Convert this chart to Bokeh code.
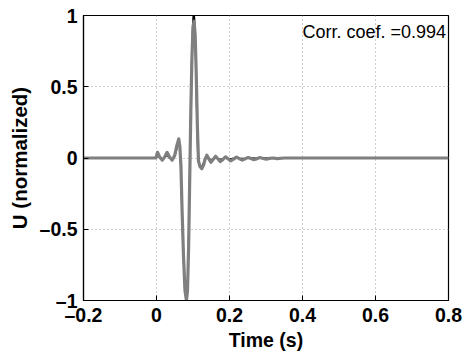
from bokeh.plotting import figure
from bokeh.models import Range1d, FixedTicker
from bokeh.core.properties import value
from bokeh.embed import file_html
from bokeh.resources import INLINE

# Measured (black) trace
t_meas = [-0.2, 0.0, 0.003, 0.009, 0.016, 0.023, 0.029, 0.036, 0.043, 0.050, 0.056,
          0.061, 0.064, 0.067, 0.070, 0.074, 0.078, 0.082, 0.085, 0.088, 0.091,
          0.094, 0.097, 0.100, 0.102, 0.104, 0.107, 0.110, 0.113, 0.116, 0.120,
          0.124, 0.129, 0.134, 0.140, 0.147, 0.154, 0.162, 0.170, 0.178, 0.187,
          0.196, 0.206, 0.216, 0.228, 0.240, 0.255, 0.27, 0.3, 0.8]
u_meas = [0.0, 0.0, 0.02, 0.005, -0.01, 0.005, 0.02, 0.0, -0.01, 0.01, 0.07,
          0.11, 0.07, -0.08, -0.38, -0.70, -0.93, -0.99, -0.92, -0.60, -0.12,
          0.36, 0.74, 0.97, 1.04, 0.98, 0.74, 0.36, 0.05, -0.04, -0.06,
          -0.06, -0.035, -0.005, 0.01, -0.01, -0.015, 0.005, -0.008, -0.01, 0.003,
          -0.006, -0.006, 0.002, -0.004, -0.003, 0.001, -0.002, 0.0, 0.0]

# Simulated (gray) trace
t_sim = [-0.2, -0.002, 0.003, 0.009, 0.016, 0.023, 0.029, 0.036, 0.043, 0.050,
         0.056, 0.061, 0.064, 0.067, 0.070, 0.074, 0.078, 0.082, 0.085, 0.088,
         0.091, 0.094, 0.097, 0.100, 0.103, 0.106, 0.109, 0.112, 0.115, 0.119,
         0.124, 0.129, 0.133, 0.138, 0.143, 0.149, 0.155, 0.162, 0.168, 0.175,
         0.182, 0.189, 0.196, 0.203, 0.211, 0.219, 0.227, 0.235, 0.243, 0.251,
         0.259, 0.267, 0.275, 0.283, 0.292, 0.301, 0.310, 0.320, 0.330, 0.350, 0.8]
u_sim = [0.0, 0.0, 0.04, 0.005, -0.015, 0.01, 0.04, 0.005, -0.015, 0.02,
         0.09, 0.134, 0.08, -0.06, -0.36, -0.69, -0.93, -1.0, -0.93, -0.62,
         -0.15, 0.32, 0.70, 0.92, 0.96, 0.86, 0.58, 0.22, -0.02, -0.06,
         -0.075, -0.05, -0.01, 0.02, -0.005, -0.03, -0.01, 0.012, -0.005, -0.025,
         -0.01, 0.008, -0.005, -0.02, -0.008, 0.006, -0.005, -0.015, -0.006, 0.004,
         -0.004, -0.012, -0.005, 0.003, -0.003, -0.008, -0.003, 0.0, -0.004, 0.0, 0.0]

x_ticks = [-0.2, 0, 0.2, 0.4, 0.6, 0.8]
x_labels = ["\u20130.2", "0", "0.2", "0.4", "0.6", "0.8"]
y_ticks = [-1, -0.5, 0, 0.5, 1]
y_labels = ["\u20131", "\u20130.5", "0", "0.5", "1"]
corr_text = "Corr. coef. =0.994"

FONT = "Liberation Sans"

p = figure(width=468, height=353, output_backend="svg", toolbar_location=None,
           x_range=Range1d(-0.2, 0.8), y_range=Range1d(-1, 1))
p.min_border_left = 83
p.min_border_right = 20
p.min_border_top = 15
p.min_border_bottom = 50
p.background_fill_color = "white"
p.border_fill_color = "white"
p.outline_line_color = "black"
p.outline_line_width = 1.2

for ax, ticks, labels in ((p.xaxis[0], x_ticks, x_labels), (p.yaxis[0], y_ticks, y_labels)):
    ax.ticker = FixedTicker(ticks=ticks)
    ax.major_label_overrides = {t: l for t, l in zip(ticks, labels)}
    ax.major_label_text_font = FONT
    ax.major_label_text_font_style = "bold"
    ax.major_label_text_font_size = "19.5px"
    ax.major_label_text_color = "black"
    ax.axis_label_text_font = FONT
    ax.axis_label_text_font_style = "bold"
    ax.axis_label_text_color = "black"
    ax.major_tick_in = 5
    ax.major_tick_out = 0
    ax.minor_tick_in = 0
    ax.minor_tick_out = 0
    ax.axis_line_color = "black"
    ax.axis_line_width = 1.2
    ax.major_tick_line_color = "black"

p.xaxis.axis_label = "Time (s)"
p.yaxis.axis_label = "U (normalized)"
p.xaxis.axis_label_text_font_size = "19.5px"
p.yaxis.axis_label_text_font_size = "20.5px"
p.xaxis.major_label_standoff = 3
p.xaxis.axis_label_standoff = 0
p.yaxis.major_label_standoff = 6
p.yaxis.axis_label_standoff = 6

for g in (p.xgrid[0], p.ygrid[0]):
    g.grid_line_color = "#a0a0a0"
    g.grid_line_dash = "1 3"
    g.grid_line_width = 1

p.line(t_meas, u_meas, line_color="black", line_width=1.6)
p.line(t_sim, u_sim, line_color="#7f7f7f", line_width=3.2, line_join="round")

p.text(x=[0.4], y=[0.885], text=[corr_text], text_font=value(FONT),
       text_font_size="18px", text_color="black", text_baseline="middle",
       text_align="left")

open("out.html", "w").write(file_html(p, INLINE))
